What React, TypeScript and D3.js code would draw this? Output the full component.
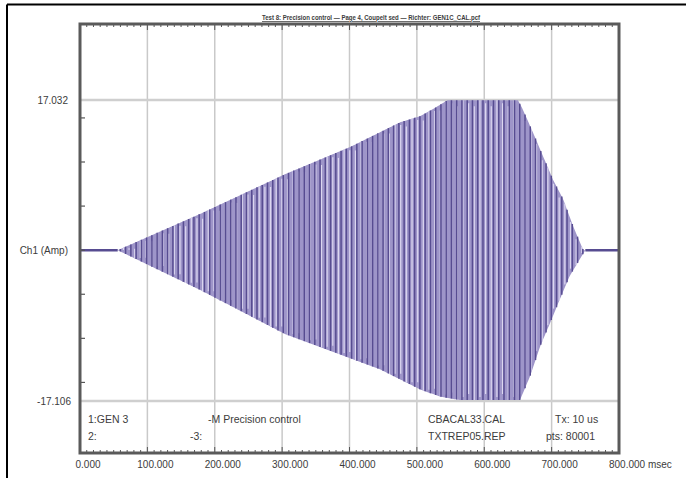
import React from "react";
import * as d3 from "d3";

// ---- data ----
const xTickValues = [0, 100000, 200000, 300000, 400000, 500000, 600000, 700000, 800000];
const xTickLabels = ["0.000", "100.000", "200.000", "300.000", "400.000", "500.000", "600.000", "700.000", "800.000 msec"];
const yMax = 17.032;
const yMin = -17.106;
const yTickValues = [15, 10, 5, 0, -5, -10, -15];

// envelope of the oscillation (msec, Amp)
const upperT = [56000, 178000, 304000, 401000, 475000, 505000, 524000, 545000, 650000, 657000, 672000, 687000, 702000, 717000, 732000, 747000];
const upperA = [0, 4.1, 8.6, 11.7, 14.5, 15.2, 16.0, 17.0, 17.0, 16.0, 13.4, 10.7, 8.0, 5.8, 2.7, 0];
const lowerT = [56000, 178000, 304000, 445000, 505000, 534000, 564000, 653000, 668000, 683000, 698000, 712000, 727000, 750000];
const lowerA = [0, -4.5, -9.5, -13.5, -15.8, -16.6, -17.0, -17.0, -14.3, -10.9, -8.2, -5.6, -2.9, 0];
const signalStart = 56000;
const signalEnd = 750000;
const cyclePeriod = 7800; // msec per dark stripe
const gapPeriod = 8400; // msec per light stripe (sampling alias)

const title = "Test 8: Precision control \u2014 Page 4, Coupelt sed \u2014 Richter: GEN1C_CAL.pcf";
const legendRow1 = ["1:GEN 3", "-M Precision control", "CBACAL33.CAL", "Tx: 10 us"];
const legendRow2 = ["2:", "-3:", "TXTREP05.REP", "pts: 80001"];

const W = 686;
const H = 478;
const L = 80, R = 619, T = 24, B = 453;

export default function App() {
  const x = d3.scaleLinear().domain([0, 800000]).range([L, R]);
  const y = d3.scaleLinear().domain([yMin, yMax]).range([401, 100]);
  const up = d3.scaleLinear().domain(upperT).range(upperA).clamp(true);
  const lo = d3.scaleLinear().domain(lowerT).range(lowerA).clamp(true);

  const envT = d3.range(signalStart, signalEnd + 1, 2000);
  const area = d3
    .area<number>()
    .x((t) => x(t))
    .y0((t) => y(lo(t)))
    .y1((t) => y(up(t)));

  const darkT = d3.range(signalStart + cyclePeriod / 2, signalEnd, cyclePeriod);
  const lightT = d3.range(signalStart + gapPeriod, signalEnd, gapPeriod);

  const minorTicks = d3.range(0, 800001, 10000);
  const font = "'Liberation Sans', Arial, sans-serif";
  const txt = "#3c3c3c";
  const colX1 = [88, 208, 428, 555];
  const colX2 = [88, 190, 428, 546];
  const purple = "#574c91";

  return (
    <svg width={W} height={H} style={{ position: "fixed", left: 0, top: 0, background: "#fff" }}>
      {/* outer frame (top & left) */}
      <line x1={7} y1={4.5} x2={W} y2={4.5} stroke="#000" strokeWidth={2} />
      <line x1={7} y1={4.5} x2={7} y2={H} stroke="#000" strokeWidth={2} />

      {/* grid */}
      {xTickValues.slice(1, -1).map((v) => (
        <line key={"g" + v} x1={x(v)} x2={x(v)} y1={T} y2={B} stroke="#c9c9c9" strokeWidth={1.5} />
      ))}
      {[yMax, yMin].map((v) => (
        <line key={"h" + v} x1={L} x2={R} y1={y(v)} y2={y(v)} stroke="#cfcfcf" strokeWidth={2.5} />
      ))}

      {/* signal */}
      <path d={area(envT) || ""} fill="#9e95c9" />
      {lightT.map((t, i) => (
        <line key={"w" + i} x1={x(t)} x2={x(t)}
          y1={y(up(t)) + (i % 3) * 3} y2={y(lo(t)) - ((i + 1) % 3) * 3}
          stroke="#dcd7f0" strokeWidth={1.2} />
      ))}
      {darkT.map((t, i) => (
        <line key={"d" + i} x1={x(t)} x2={x(t)} y1={y(up(t))} y2={y(lo(t))} stroke={purple} strokeWidth={1.5} />
      ))}
      <line x1={x(0)} x2={x(signalStart)} y1={y(0)} y2={y(0)} stroke={purple} strokeWidth={2.5} />
      <line x1={x(signalEnd)} x2={x(800000)} y1={y(0)} y2={y(0)} stroke={purple} strokeWidth={2.5} />

      {/* ticks */}
      {minorTicks.map((v) => {
        const len = v % 100000 === 0 ? 6 : 3;
        return (
          <g key={"t" + v}>
            <line x1={x(v)} x2={x(v)} y1={T} y2={T + len} stroke="#555" strokeWidth={1} />
            <line x1={x(v)} x2={x(v)} y1={B} y2={B - len} stroke="#555" strokeWidth={1} />
          </g>
        );
      })}
      {yTickValues.map((v) => (
        <line key={"yt" + v} x1={L} x2={L + 5} y1={y(v)} y2={y(v)} stroke="#555" strokeWidth={1.2} />
      ))}

      {/* plot border */}
      <rect x={L} y={T} width={R - L} height={B - T} fill="none" stroke="#5a5a5a" strokeWidth={3} />

      {/* title */}
      <text x={371} y={20} textAnchor="middle" fontFamily={font} fontSize={7.5} fontWeight="bold" fill={txt}
        textLength={218} lengthAdjust="spacingAndGlyphs" textDecoration="underline">
        {title}
      </text>

      {/* y labels */}
      <text x={68} y={103.5} textAnchor="end" fontFamily={font} fontSize={10} fill={txt}>{yMax.toFixed(3)}</text>
      <text x={68} y={y(0) + 3.5} textAnchor="end" fontFamily={font} fontSize={10} fill={txt}>Ch1 (Amp)</text>
      <text x={71} y={404.5} textAnchor="end" fontFamily={font} fontSize={10} fill={txt}>{yMin.toFixed(3)}</text>

      {/* x labels */}
      {xTickValues.map((v, i) => (
        <text key={"xl" + v} x={x(v) + (i === xTickValues.length - 1 ? 0 : 8)} y={468}
          textAnchor={i === xTickValues.length - 1 ? "start" : "middle"}
          dx={i === xTickValues.length - 1 ? -10 : 0}
          fontFamily={font} fontSize={10} fill={txt}>
          {xTickLabels[i]}
        </text>
      ))}

      {/* legend block */}
      {legendRow1.map((s, i) => (
        <text key={"l1" + i} x={colX1[i]} y={423} fontFamily={font} fontSize={10.5} fill={txt}>{s}</text>
      ))}
      {legendRow2.map((s, i) => (
        <text key={"l2" + i} x={colX2[i]} y={440} fontFamily={font} fontSize={10.5} fill={txt}>{s}</text>
      ))}
    </svg>
  );
}
